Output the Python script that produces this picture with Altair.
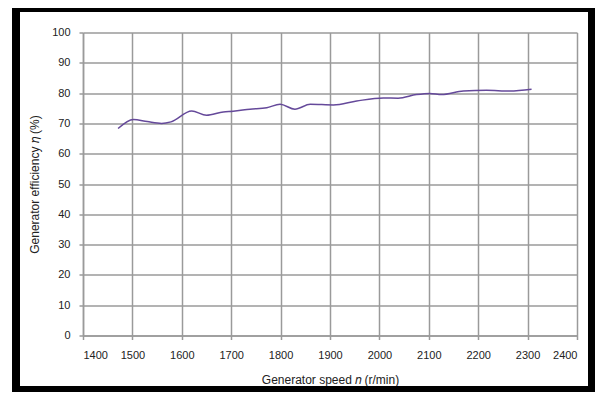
import altair as alt
import pandas as pd

speed = [1471, 1502, 1530, 1559, 1578, 1620, 1650, 1684, 1704, 1738, 1772, 1799,
         1829, 1860, 1907, 1954, 2008, 2038, 2075, 2102, 2126, 2170, 2217, 2264, 2308]
efficiency = [68.3, 71.3, 70.6, 70.0, 70.5, 74.1, 72.7, 73.8, 74.0, 74.7, 75.2, 76.3,
              74.7, 76.3, 76.1, 77.4, 78.4, 78.3, 79.5, 79.9, 79.5, 80.7, 80.9, 80.7, 81.3]
x_ticks = [1400, 1500, 1600, 1700, 1800, 1900, 2000, 2100, 2200, 2300, 2400]
y_ticks = [0, 10, 20, 30, 40, 50, 60, 70, 80, 90, 100]

df = pd.DataFrame({"speed": speed, "eff": efficiency})

FONT = "Liberation Sans"
GRID = "#9a9a9a"

line = alt.Chart(df).mark_line(
    color="#65499A", strokeWidth=1.5, interpolate="monotone"
).encode(
    x=alt.X("speed:Q",
            scale=alt.Scale(domain=[1400, 2400], nice=False, zero=False),
            axis=alt.Axis(values=x_ticks, format="d", title="Generator speed 𝑛 (r/min)",
                          titlePadding=14, labelPadding=10)),
    y=alt.Y("eff:Q",
            scale=alt.Scale(domain=[0, 100], nice=False),
            axis=alt.Axis(values=y_ticks, format="d", title="Generator efficiency 𝜂 (%)",
                          titlePadding=10, labelPadding=9)),
)

frame = alt.Chart(df).mark_rect(
    fill=None, stroke="black", strokeWidth=8
).encode(
    x=alt.value(-67), x2=alt.value(509),
    y=alt.value(-24.5), y2=alt.value(357.5),
)

chart = alt.layer(line, frame).properties(
    width=494, height=303,
    background="white",
    autosize=alt.AutoSizeParams(type="none"),
    padding={"left": 75, "top": 24.5, "right": 18, "bottom": 56.5},
).configure_view(
    stroke=None
).configure_axis(
    grid=True, gridColor=GRID, gridWidth=1.5, gridOpacity=1,
    domainColor=GRID, domainWidth=1.5,
    tickColor=GRID, tickSize=4, tickWidth=1.5,
    labelFont=FONT, labelFontSize=11, labelColor="#222222",
    titleFont=FONT, titleFontSize=12, titleFontWeight="normal", titleColor="#222222",
)

chart.save("out.html", embed_options={"renderer": "svg", "actions": False})
